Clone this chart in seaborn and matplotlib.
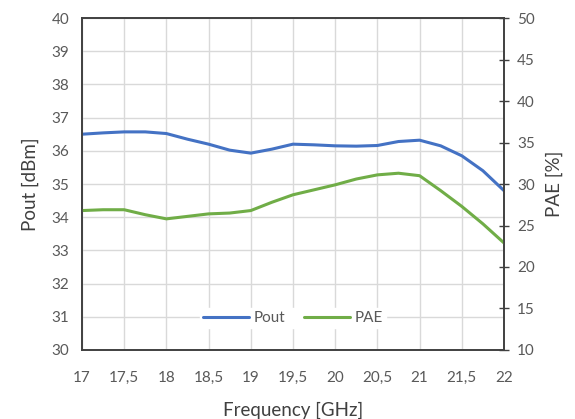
import numpy as np
import pandas as pd
import matplotlib
matplotlib.use("Agg")
import matplotlib.pyplot as plt
import seaborn as sns

# values (0.25 GHz steps)
freq = [17, 17.25, 17.5, 17.75, 18, 18.25, 18.5, 18.75, 19, 19.25, 19.5,
        19.75, 20, 20.25, 20.5, 20.75, 21, 21.25, 21.5, 21.75, 22]
pout = [36.50, 36.54, 36.57, 36.57, 36.52, 36.35, 36.20, 36.02, 35.93, 36.05, 36.20,
        36.18, 36.15, 36.14, 36.16, 36.28, 36.32, 36.15, 35.85, 35.40, 34.80]
pae = [26.8, 26.9, 26.9, 26.3, 25.8, 26.1, 26.4, 26.5, 26.8, 27.8, 28.7,
       29.3, 29.9, 30.6, 31.1, 31.3, 31.0, 29.2, 27.3, 25.2, 22.9]

x_ticks = [17, 17.5, 18, 18.5, 19, 19.5, 20, 20.5, 21, 21.5, 22]
x_labels = ["17", "17,5", "18", "18,5", "19", "19,5", "20", "20,5", "21", "21,5", "22"]

df = pd.DataFrame({"freq": freq, "Pout": pout, "PAE": pae})

sns.set_theme(style="white")
plt.rcParams["font.family"] = ["Lato", "DejaVu Sans"]

blue = "#4472C4"
green = "#70AD47"
txt = "#595959"
spine_c = "#404040"

fig = plt.figure(figsize=(5.75, 4.19), dpi=100)
ax = fig.add_axes([0.1426, 0.1647, 0.7339, 0.7923])
ax2 = ax.twinx()

sns.lineplot(data=df, x="freq", y="Pout", ax=ax, color=blue, lw=2.2, label="Pout",
             legend=False, solid_joinstyle="round")
sns.lineplot(data=df, x="freq", y="PAE", ax=ax2, color=green, lw=2.2, label="PAE",
             legend=False, solid_joinstyle="round")

ax.set_xlim(17, 22)
ax.set_ylim(30, 40)
ax2.set_ylim(10, 50)
ax.set_xticks(x_ticks)
ax.set_xticklabels(x_labels)
ax.set_yticks(range(30, 41))
ax2.set_yticks(range(10, 51, 5))

ax.grid(True, color="#d9d9d9", lw=1)
ax.set_axisbelow(True)
for a in (ax, ax2):
    for s in a.spines.values():
        s.set_color(spine_c)
        s.set_linewidth(1.2)

ax.tick_params(axis="y", length=0, labelsize=11, labelcolor=txt, pad=9)
ax.tick_params(axis="x", length=0, labelsize=11, labelcolor=txt, pad=15)
ax2.tick_params(axis="y", direction="inout", length=7, width=1, color=spine_c,
                labelsize=11, labelcolor=txt, pad=6)

ax.set_xlabel("Frequency [GHz]", fontsize=13.5, color="#404040", labelpad=12)
ax.set_ylabel("Pout [dBm]", fontsize=13.5, color="#404040", labelpad=9)
ax2.set_ylabel("PAE [%]", fontsize=13.5, color="#404040", labelpad=8)

h1, lab1 = ax.get_legend_handles_labels()
h2, lab2 = ax2.get_legend_handles_labels()
leg = ax2.legend(h1 + h2, lab1 + lab2, loc="center", bbox_to_anchor=(0.5, 0.096),
                 ncol=2, frameon=True, fancybox=False, edgecolor="white",
                 facecolor="white", framealpha=1, fontsize=11,
                 handlelength=3, columnspacing=1.2, handletextpad=0.3,
                 borderpad=0.2)
for t in leg.get_texts():
    t.set_color(txt)

fig.savefig("out.png", dpi=100)
